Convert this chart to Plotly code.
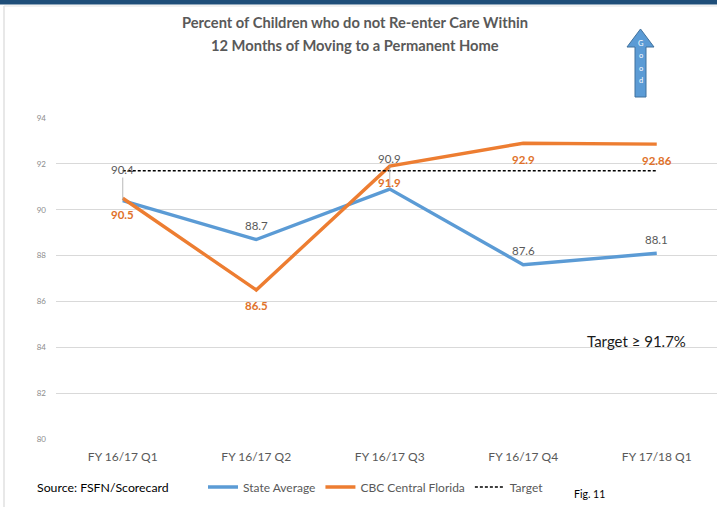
import plotly.graph_objects as go

categories = ["FY 16/17 Q1", "FY 16/17 Q2", "FY 16/17 Q3", "FY 16/17 Q4", "FY 17/18 Q1"]
state_avg = [90.4, 88.7, 90.9, 87.6, 88.1]
cbc_cf = [90.5, 86.5, 91.9, 92.9, 92.86]
cbc_labels = ["90.5", "86.5", "91.9", "92.9", "92.86"]
target = [91.7, 91.7, 91.7, 91.7, 91.7]
y_ticks = [80, 82, 84, 86, 88, 90, 92, 94]
title_lines = ["Percent of Children who do not Re-enter Care Within",
               "12 Months of Moving to a Permanent Home"]

W, H = 717, 507
L, R, T, B = 56, 0, 118, 68
PW, PH = W - L - R, H - T - B

def px(x):
    return (x - L) / PW

def py(y):
    return (H - B - y) / PH

BLUE = "#5B9BD5"
ORANGE = "#ED7D31"
FONT = "Lato, 'Open Sans', sans-serif"

fig = go.Figure()
xi = list(range(len(categories)))
fig.add_trace(go.Scatter(x=xi, y=state_avg, mode="lines", name="State Average",
                         line=dict(color=BLUE, width=3.4)))
fig.add_trace(go.Scatter(x=xi, y=cbc_cf, mode="lines", name="CBC Central Florida",
                         line=dict(color=ORANGE, width=3.4)))
fig.add_trace(go.Scatter(x=xi, y=target, mode="lines", name="Target",
                         line=dict(color="black", width=1.7, dash="3px,2px")))

ann = []
for i, v in enumerate(state_avg):
    if i in (0, 2):
        ann.append(dict(x=i, y=v, xref="x", yref="y", text=f"{v}", showarrow=True,
                        arrowhead=0, arrowwidth=0.8, arrowcolor="#A6A6A6", ax=0, ay=-31,
                        font=dict(family=FONT, size=11.5, color="#595959")))
    else:
        ann.append(dict(x=i, y=v, xref="x", yref="y", text=f"{v}", showarrow=False,
                        yshift=14, font=dict(family=FONT, size=11.5, color="#595959")))
for i, v in enumerate(cbc_cf):
    ann.append(dict(x=i, y=v, xref="x", yref="y", text=f"<b>{cbc_labels[i]}</b>", showarrow=False,
                    yshift=-16, font=dict(family=FONT, size=11.5, color="#E0712A")))

def pann(x, y, text, size, color, xanchor="center"):
    ann.append(dict(x=px(x), y=py(y), xref="paper", yref="paper", text=text, showarrow=False,
                    xanchor=xanchor, yanchor="middle", font=dict(family=FONT, size=size, color=color)))

pann(355, 22, "<b>" + title_lines[0] + "</b>", 14.7, "#595959")
pann(355, 45, "<b>" + title_lines[1] + "</b>", 14.7, "#595959")
pann(636, 341, "Target ≥ 91.7%", 15, "#1a1a1a")
pann(35, 487, "Source: FSFN/Scorecard", 12.3, "#000", "left")
pann(572, 494, "Fig. 11", 10.5, "#000", "left")
for k, ch in enumerate("Good"):
    pann(640.5, 44 + 12 * k, ch, 7.5, "white")

arrow_pts = [(640.5, 29), (654, 47), (646, 47), (646, 97), (635, 97), (635, 47), (627, 47)]
path = "M " + " L ".join(f"{px(a):.5f},{py(b):.5f}" for a, b in arrow_pts) + " Z"

shapes = [
    dict(type="path", path=path, xref="paper", yref="paper", fillcolor=BLUE,
         line=dict(color="#41719C", width=1), layer="below"),
    dict(type="rect", xref="paper", yref="paper", x0=px(0), x1=px(W), y0=py(0), y1=py(4.5),
         fillcolor="#1F4E79", line=dict(width=0)),
    dict(type="line", xref="paper", yref="paper", x0=px(4), x1=px(4), y0=py(6), y1=py(507),
         line=dict(color="#D9D9D9", width=1.2)),
    dict(type="line", xref="paper", yref="paper", x0=px(4), x1=px(W), y0=py(6), y1=py(6),
         line=dict(color="#E3E3E3", width=1)),
]

fig.update_layout(
    width=W, height=H,
    margin=dict(l=L, r=R, t=T, b=B, pad=0),
    paper_bgcolor="white", plot_bgcolor="white",
    xaxis=dict(range=[-0.5, -0.5 + PW / 133.5], tickvals=xi, ticktext=categories,
               showgrid=False, zeroline=False, showline=False, ticks="",
               tickfont=dict(family=FONT, size=12, color="#595959"), ticklabelstandoff=9),
    yaxis=dict(range=[80, 94], tickvals=y_ticks, showgrid=True, gridcolor="#D9D9D9", gridwidth=1,
               zeroline=False, showline=False, ticks="",
               tickfont=dict(family=FONT, size=8, color="#8C8C8C"), ticklabelstandoff=9),
    legend=dict(orientation="h", x=px(203), y=py(487), xanchor="left", yanchor="middle",
                font=dict(family=FONT, size=12, color="#595959"), itemwidth=30,
                bgcolor="rgba(0,0,0,0)"),
    annotations=ann,
    shapes=shapes,
    showlegend=True,
)

fig.write_html("out.html")
